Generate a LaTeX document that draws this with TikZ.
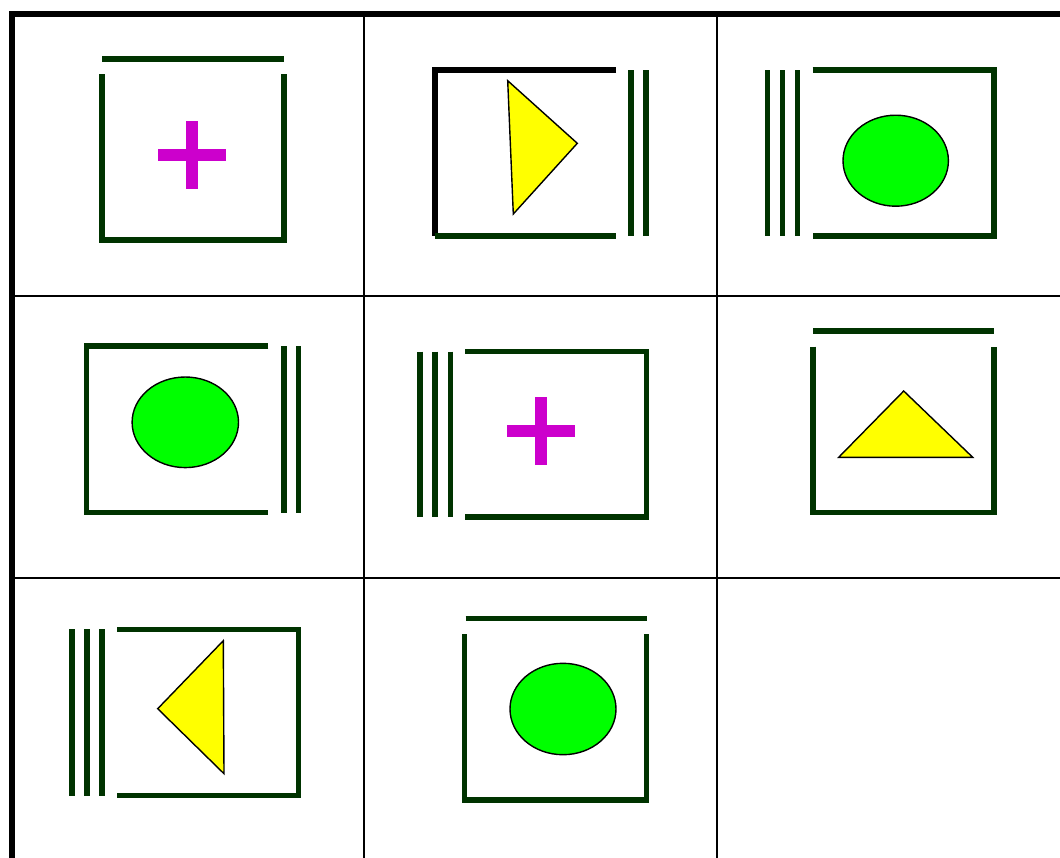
\documentclass[tikz,border=0pt]{standalone}
\usepackage{tikz}
\definecolor{framegreen}{HTML}{003300}
\definecolor{plusmagenta}{HTML}{CC00CC}
\definecolor{triyellow}{RGB}{255,255,0}
\definecolor{blobgreen}{RGB}{0,255,0}
\begin{document}
\begin{tikzpicture}[x=1pt, y=-1pt,
    border/.style={draw=black, line width=5.5pt, line join=miter},
    gridline/.style={draw=black, line width=2pt},
    frame/.style={draw=framegreen, line width=5.5pt, line join=miter},
    blackframe/.style={draw=black, line width=5.5pt, line join=miter},
    tri/.style={draw=black, fill=triyellow, line width=1.4pt, line join=miter},
    blob/.style={draw=black, fill=blobgreen, line width=1.4pt},
    plusbar/.style={fill=plusmagenta},
]
\useasboundingbox (0,0) rectangle (1060,857);
\clip (0,0) rectangle (1060,857);
% Grid
\draw[gridline] (364,14) -- (364,870);
\draw[gridline] (717,14) -- (717,870);
\draw[gridline] (12,296) -- (1070,296);
\draw[gridline] (12,578) -- (1070,578);
\draw[border] (12,870) -- (12,14) -- (1070,14);
% Row 1
\draw[frame] (102,59) -- (284,59);
\draw[frame] (102,74) -- (102,240) -- (284,240) -- (284,74);
\fill[plusbar] (158,148.5) rectangle (226,160.5);
\fill[plusbar] (186,120.5) rectangle (198,188.5);

\draw[blackframe] (616,70) -- (435,70) -- (435,236);
\draw[frame] (435,236) -- (616,236);
\draw[frame] (631,70) -- (631,236);
\draw[frame] (646,70) -- (646,236);
\draw[tri] (507.7,80.7) -- (577.3,143.3) -- (513.3,214) -- cycle;

\draw[frame] (767.3,70) -- (767.3,236);
\draw[frame] (782.3,70) -- (782.3,236);
\draw[frame] (797.3,70) -- (797.3,236);
\draw[frame] (812.7,70) -- (994,70) -- (994,236) -- (812.7,236);
\draw[blob] (895.7,160.7) ellipse [x radius=52.7, y radius=45.5];
% Row 2
\draw[frame] (268.3,346) -- (86.7,346) -- (86.7,512.7) -- (268.3,512.7);
\draw[frame] (284,346) -- (284,512.7);
\draw[frame] (298.7,346) -- (298.7,512.7);
\draw[blob] (185.3,422.3) ellipse [x radius=53.2, y radius=45.3];

\draw[frame] (420,351.7) -- (420,517);
\draw[frame] (435,351.7) -- (435,517);
\draw[frame] (450.3,351.7) -- (450.3,517);
\draw[frame] (465.3,351.7) -- (646.7,351.7) -- (646.7,517) -- (465.3,517);
\fill[plusbar] (507,425.4) rectangle (575,437.4);
\fill[plusbar] (535,397.4) rectangle (547,465.4);

\draw[frame] (813.3,331) -- (994.3,331);
\draw[frame] (813,346.7) -- (813,512.3) -- (994,512.3) -- (994,346.7);
\draw[tri] (838.7,457.3) -- (903.7,391) -- (972.7,457.3) -- cycle;
% Row 3
\draw[frame] (72,629.3) -- (72,795.7);
\draw[frame] (87,629.3) -- (87,795.7);
\draw[frame] (102,629.3) -- (102,795.7);
\draw[frame] (117.3,629.3) -- (298.3,629.3) -- (298.3,795.7) -- (117.3,795.7);
\draw[tri] (223.3,640.7) -- (157.7,708.7) -- (224,773.7) -- cycle;

\draw[frame] (465.7,618.3) -- (646.7,618.3);
\draw[frame] (464.7,634) -- (464.7,800) -- (646.7,800) -- (646.7,634);
\draw[blob] (563,709) ellipse [x radius=53, y radius=45.7];
\end{tikzpicture}
\end{document}
